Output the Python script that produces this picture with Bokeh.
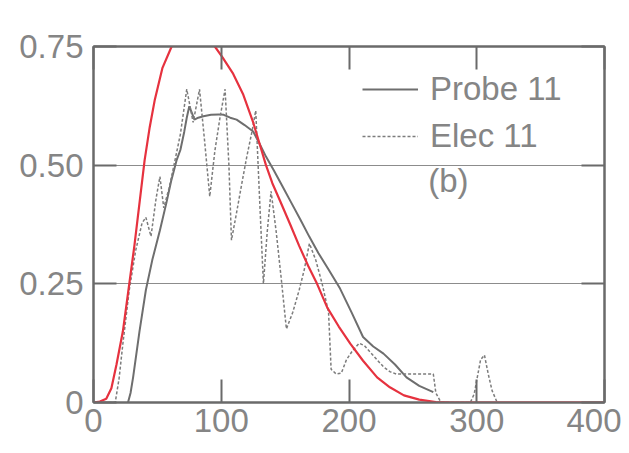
from bokeh.plotting import figure
from bokeh.models import Legend, LegendItem, Label, LinearAxis, FixedTicker, Range1d
from bokeh.embed import file_html
from bokeh.resources import INLINE

# ---- data ----
x_ticks = [0, 100, 200, 300, 400]
x_tick_labels = ["0", "100", "200", "300", "400"]
y_ticks = [0, 0.25, 0.5, 0.75]
y_tick_labels = ["0", "0.25", "0.50", "0.75"]

probe_x = [27, 29, 31, 36, 41, 46, 52, 57, 61, 65, 68, 71, 73, 75, 77, 79, 82, 86,
           92, 98, 102, 107, 112, 118, 125, 130, 135, 141, 148, 155, 162, 169, 176,
           184, 193, 202, 211, 219, 227, 236, 245, 255, 266]
probe_y = [0.0, 0.02, 0.053, 0.15, 0.237, 0.30, 0.363, 0.42, 0.469, 0.51, 0.532, 0.57,
           0.60, 0.624, 0.61, 0.596, 0.60, 0.603, 0.606, 0.607, 0.606, 0.60, 0.596,
           0.585, 0.571, 0.545, 0.518, 0.49, 0.455, 0.42, 0.385, 0.349, 0.315, 0.28,
           0.24, 0.19, 0.138, 0.118, 0.103, 0.08, 0.053, 0.035, 0.022]

elec_x = [0, 17, 20, 23, 28, 33, 38, 41, 45, 49, 52, 55, 59, 63, 68, 73, 78, 83, 87,
          91, 95, 99, 103, 106, 108, 112, 116, 120, 124, 127, 130, 133, 136, 139, 143,
          147, 151, 156, 161, 165, 169, 174, 179, 184, 186, 190, 194, 198, 203, 208,
          212, 217, 222, 227, 232, 237, 250, 262, 266, 268, 272, 295, 298, 303, 306,
          309, 312, 316]
elec_y = [0.0, 0.0, 0.05, 0.124, 0.237, 0.32, 0.378, 0.39, 0.35, 0.43, 0.476, 0.41,
          0.45, 0.50, 0.565, 0.66, 0.59, 0.66, 0.55, 0.434, 0.53, 0.60, 0.66, 0.50,
          0.342, 0.40, 0.46, 0.518, 0.57, 0.615, 0.43, 0.25, 0.36, 0.445, 0.36, 0.26,
          0.155, 0.19, 0.237, 0.28, 0.335, 0.30, 0.25, 0.19, 0.07, 0.06, 0.062, 0.09,
          0.11, 0.125, 0.12, 0.105, 0.09, 0.075, 0.065, 0.06, 0.06, 0.06, 0.06, 0.02,
          0.0, 0.0, 0.018, 0.09, 0.10, 0.06, 0.025, 0.0]

model_x = [0, 5, 10, 14, 18, 23, 28, 32, 36, 40, 44, 48, 54, 61, 66, 72, 78, 84, 90,
           95, 101, 109, 117, 125, 130, 135, 140, 146, 154, 161, 168, 175, 183, 192,
           201, 211, 222, 232, 243, 255, 268, 280, 300, 340, 400]
model_y = [0.0, 0.002, 0.008, 0.03, 0.08, 0.15, 0.25, 0.33, 0.42, 0.51, 0.58, 0.638,
           0.705, 0.749, 0.775, 0.795, 0.805, 0.80, 0.78, 0.75, 0.727, 0.694, 0.65,
           0.59, 0.545, 0.50, 0.462, 0.425, 0.375, 0.33, 0.288, 0.25, 0.20, 0.16,
           0.124, 0.088, 0.053, 0.032, 0.015, 0.006, 0.001, 0.0, 0.0, 0.0, 0.0]

series_labels = ["Probe 11", "Elec 11"]
panel_tag = "(b)"

# ---- styles ----
FONT = "Liberation Sans"
TXT = "#858585"
AX = "#6a6a6a"

p = figure(width=621, height=450, output_backend="svg", toolbar_location=None,
           x_range=Range1d(0, 400), y_range=Range1d(0, 0.75),
           min_border_left=93, min_border_right=17, min_border_top=46,
           min_border_bottom=48, background_fill_color="white",
           border_fill_color="white")
p.outline_line_color = AX
p.outline_line_width = 2

p.add_layout(LinearAxis(), "above")
p.add_layout(LinearAxis(), "right")

for ax in p.xaxis:
    ax.ticker = FixedTicker(ticks=x_ticks)
for ax in p.yaxis:
    ax.ticker = FixedTicker(ticks=y_ticks)

for ax in p.axis:
    ax.major_tick_in = 23
    ax.major_tick_out = 0
    ax.minor_tick_in = 0
    ax.minor_tick_out = 0
    ax.major_tick_line_color = AX
    ax.major_tick_line_width = 2
    ax.axis_line_color = AX
    ax.axis_line_width = 2
    ax.major_label_text_font = FONT
    ax.major_label_text_color = TXT
    ax.major_label_text_font_size = "33px"

bottom = p.below[0]
bottom.major_label_overrides = dict(zip(x_ticks, x_tick_labels))
bottom.major_label_standoff = 6
left = p.left[0]
left.major_label_overrides = dict(zip(y_ticks, y_tick_labels))
left.major_label_standoff = 10
p.above[0].major_label_overrides = {t: "" for t in x_ticks}
p.right[0].major_label_overrides = {t: "" for t in y_ticks}
for ax in (p.above[0], p.right[0]):
    ax.major_label_standoff = 0

p.xgrid.visible = False
p.ygrid.ticker = FixedTicker(ticks=y_ticks)
p.ygrid.grid_line_color = "#8c8c8c"
p.ygrid.grid_line_width = 1

r_probe = p.line(probe_x, probe_y, line_color="#6e6e6e", line_width=2)
r_elec = p.line(elec_x, elec_y, line_color="#7c7c7c", line_width=1.5,
                line_dash="3 2")
p.line(model_x, model_y, line_color="#e6323f", line_width=2.2)

legend = Legend(items=[LegendItem(label=series_labels[0], renderers=[r_probe]),
                       LegendItem(label=series_labels[1], renderers=[r_elec])],
                location="top_right")
legend.margin = 21
legend.padding = 0
legend.spacing = 3
legend.glyph_width = 56
legend.glyph_height = 44
legend.label_height = 44
legend.label_width = 153
legend.label_standoff = 12
legend.label_text_font = FONT
legend.label_text_font_size = "33px"
legend.label_text_color = TXT
legend.background_fill_alpha = 0
legend.border_line_color = None
p.add_layout(legend)

p.add_layout(Label(x=262, y=0.467, text=panel_tag, text_font=FONT,
                   text_font_size="33px", text_color=TXT, text_baseline="middle"))

open("out.html", "w").write(file_html(p, INLINE))
